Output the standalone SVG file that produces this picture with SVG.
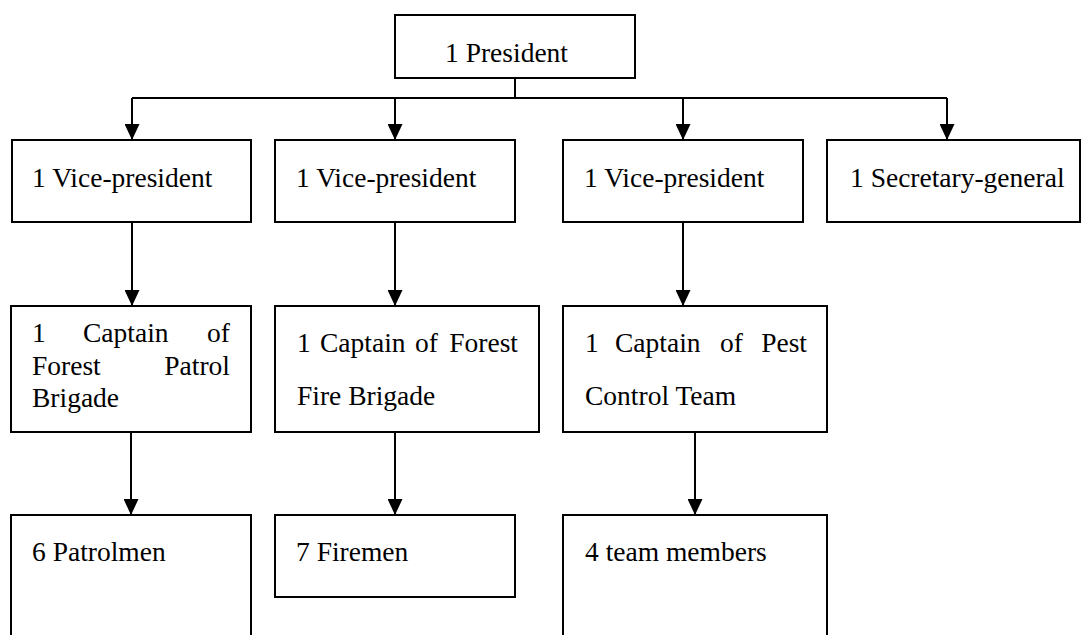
<svg xmlns="http://www.w3.org/2000/svg" width="1081" height="635" viewBox="0 0 1081 635">
<style>
.box{fill:#fff;stroke:#000;stroke-width:2}
.t{font-family:"Liberation Serif","Times New Roman",serif;font-size:27.5px;fill:#000}
.e{text-anchor:end}
.ln{fill:none;stroke:#000;stroke-width:2}
.ar{fill:none;stroke:#000;stroke-width:2;marker-end:url(#ah)}
</style>
<defs>
<marker id="ah" viewBox="0 0 16 15" refX="16" refY="7.5" markerWidth="16" markerHeight="15" markerUnits="userSpaceOnUse" orient="auto">
<path d="M0,0 L16,7.5 L0,15 z" fill="#000"/>
</marker>
</defs>
<rect width="1081" height="635" fill="#fff"/>
<g id="connectors">
<path class="ln" d="M515,78 V98 M132,98 H947"/>
<path class="ar" d="M132,98 V140"/>
<path class="ar" d="M395,98 V140"/>
<path class="ar" d="M683,98 V140"/>
<path class="ar" d="M947,98 V140"/>
<path class="ar" d="M132,222 V306"/>
<path class="ar" d="M395,222 V306"/>
<path class="ar" d="M683,222 V306"/>
<path class="ar" d="M131,432 V515"/>
<path class="ar" d="M395,432 V515"/>
<path class="ar" d="M695,432 V515"/>
</g>
<g id="president">
<rect class="box" x="395" y="15" width="240" height="63"/>
<text class="t" x="445" y="62">1 President</text>
</g>
<g id="vp1">
<rect class="box" x="12" y="140" width="239" height="82"/>
<text class="t" x="32" y="187">1 Vice-president</text>
</g>
<g id="vp2">
<rect class="box" x="275" y="140" width="240" height="82"/>
<text class="t" x="296" y="187">1 Vice-president</text>
</g>
<g id="vp3">
<rect class="box" x="563" y="140" width="240" height="82"/>
<text class="t" x="584" y="187">1 Vice-president</text>
</g>
<g id="secretary">
<rect class="box" x="827" y="140" width="253" height="82"/>
<text class="t" x="850" y="187">1 Secretary-general</text>
</g>
<g id="captain-patrol">
<rect class="box" x="11" y="306" width="240" height="126"/>
<text class="t" x="32" y="342">1</text>
<text class="t" x="83" y="342">Captain</text>
<text class="t e" x="230" y="342">of</text>
<text class="t" x="32" y="375">Forest</text>
<text class="t e" x="230" y="375">Patrol</text>
<text class="t" x="32" y="407">Brigade</text>
</g>
<g id="captain-fire">
<rect class="box" x="275" y="306" width="264" height="126"/>
<text class="t" x="297" y="352">1</text>
<text class="t" x="320" y="352">Captain</text>
<text class="t" x="415" y="352">of</text>
<text class="t e" x="518" y="352">Forest</text>
<text class="t" x="297" y="405">Fire Brigade</text>
</g>
<g id="captain-pest">
<rect class="box" x="563" y="306" width="264" height="126"/>
<text class="t" x="585" y="352">1</text>
<text class="t" x="615" y="352">Captain</text>
<text class="t" x="720" y="352">of</text>
<text class="t e" x="807" y="352">Pest</text>
<text class="t" x="585" y="405">Control Team</text>
</g>
<g id="patrolmen">
<rect class="box" x="11" y="515" width="240" height="140"/>
<text class="t" x="32" y="561">6 Patrolmen</text>
</g>
<g id="firemen">
<rect class="box" x="275" y="515" width="240" height="82"/>
<text class="t" x="296" y="561">7 Firemen</text>
</g>
<g id="team-members">
<rect class="box" x="563" y="515" width="264" height="140"/>
<text class="t" x="585" y="561">4 team members</text>
</g>
</svg>
